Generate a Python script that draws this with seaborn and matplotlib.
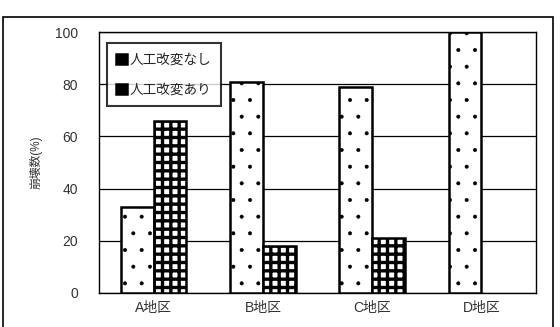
import matplotlib
matplotlib.use("Agg")
import matplotlib.pyplot as plt
import seaborn as sns
import pandas as pd
from matplotlib.patches import Rectangle

categories = ["A地区", "B地区", "C地区", "D地区"]
series_names = ["人工改変なし", "人工改変あり"]
values_nashi = [33, 81, 79, 100]
values_ari = [66, 18, 21, 0]
y_ticks = [0, 20, 40, 60, 80, 100]

sns.set_theme(style="white")
plt.rcParams['font.family'] = ['Liberation Sans', 'Noto Sans CJK JP', 'DejaVu Sans']

df = pd.DataFrame({
    "地区": categories * 2,
    "系列": [series_names[0]] * 4 + [series_names[1]] * 4,
    "崩壊数": values_nashi + values_ari,
})

fig = plt.figure(figsize=(5.6, 3.27), dpi=100)
ax = fig.add_axes([99/560, 1-293/327, (536-99)/560, (293-32)/327])

sns.barplot(data=df, x="地区", y="崩壊数", hue="系列", order=categories,
            hue_order=series_names, palette=["white", "white"], width=0.6,
            edgecolor="black", linewidth=1.8, ax=ax, errorbar=None, zorder=3)

hatches = [".", "++"]
for i, cont in enumerate(ax.containers):
    for p in cont:
        p.set_hatch(hatches[i])
        p.set_edgecolor("black")
        if hasattr(p, "set_hatch_linewidth"):
            p.set_hatch_linewidth(0.4 if i == 0 else 2.4)
        if p.get_height() == 0:
            p.set_visible(False)

ax.set_ylim(0, 100)
ax.set_yticks(y_ticks)
ax.set_yticklabels([str(v) for v in y_ticks])
ax.yaxis.grid(True, color="black", linewidth=0.9, zorder=0)
ax.set_axisbelow(True)
ax.tick_params(axis="y", length=0, pad=15, labelsize=10, colors="#333333")
ax.tick_params(axis="x", length=0, pad=6, labelsize=10, colors="#333333")
ax.set_xlabel("")
ax.set_ylabel("崩壊数(%)", fontsize=8.5, labelpad=9, color="#333333")
for s in ax.spines.values():
    s.set_visible(True)
    s.set_color("black")
    s.set_linewidth(1.0)

# category boundary tick marks
ax.set_xticks([0.5, 1.5, 2.5], minor=True)
ax.tick_params(axis="x", which="minor", direction="in", length=3, width=0.8, color="black")

leg = ax.legend(loc="upper left", bbox_to_anchor=(0.018, 0.958), borderaxespad=0,
                fontsize=9.8, frameon=True, fancybox=False, shadow=False,
                labelspacing=1.2, handlelength=0.75, handleheight=0.75,
                handletextpad=0.2, borderpad=0.7, title=None)
leg.get_frame().set_edgecolor("black")
leg.get_frame().set_linewidth(1.5)
for h in leg.legend_handles:
    h.set_facecolor("black")
    h.set_edgecolor("black")

fig.patches.append(Rectangle((3/560, -0.05), (553-3)/560, 1-17/327+0.05,
                             transform=fig.transFigure, fill=False,
                             edgecolor="black", linewidth=1.2))

fig.savefig("out.png", dpi=100)
